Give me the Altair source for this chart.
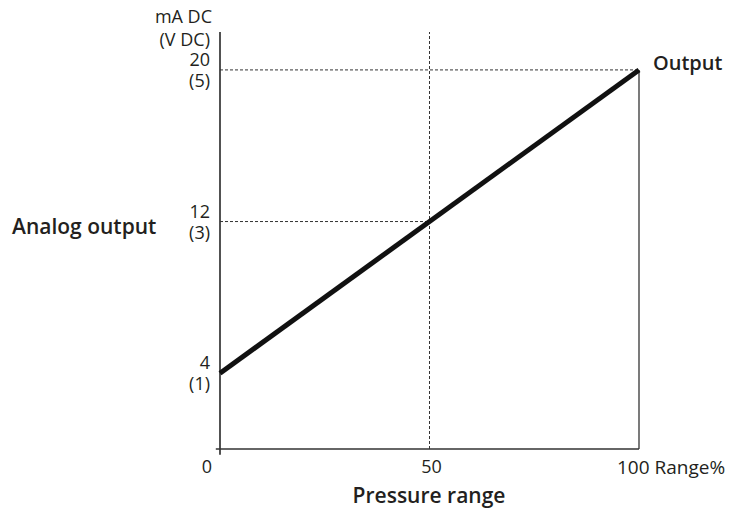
import altair as alt
import pandas as pd

# data
x_ticks = [0, 50, 100]
x_tick_labels = ["0", "50", "100 Range%"]
y_ticks = [4, 12, 20]
y_labels_ma = ["4", "12", "20"]
y_labels_v = ["(1)", "(3)", "(5)"]
unit_labels = ["mA DC", "(V DC)"]
range_pct = [0, 100]
output_ma = [4, 20]

FONT = "Open Sans"
TXT = "#231f20"
LN = "#333333"
TS = 18   # tick label size
LS = 21   # title label size
LW = 600  # title label weight

xs = alt.Scale(domain=[0, 100], nice=False, zero=False)
ys = alt.Scale(domain=[0, 22], nice=False, zero=False)

line_df = pd.DataFrame({"x": range_pct, "y": output_ma})
yt_df = pd.DataFrame({"y": y_ticks, "ma": y_labels_ma, "v": y_labels_v})

def X(f="x"):
    return alt.X(f, type="quantitative", scale=xs, axis=None)

def Y(f="y"):
    return alt.Y(f, type="quantitative", scale=ys, axis=None)

# reference guide lines
dash_h = pd.DataFrame({"x": [0, 0], "x2": [100, 50], "y": [20, 12]})
dash_v = pd.DataFrame({"x": [50], "y": [0], "y2": [22]})
solid_v = pd.DataFrame({"x": [100], "y": [0], "y2": [20]})
yaxis = pd.DataFrame({"x": [0], "y": [-0.3], "y2": [22]})
xaxis = pd.DataFrame({"x": [-1], "x2": [100], "y": [0]})

l_dash_h = alt.Chart(dash_h).mark_rule(strokeDash=[3, 2], strokeWidth=1, color=LN).encode(
    x=X(), x2="x2", y=Y())
l_dash_v = alt.Chart(dash_v).mark_rule(strokeDash=[3, 2], strokeWidth=1, color=LN).encode(
    x=X(), y=Y(), y2="y2")
l_solid_v = alt.Chart(solid_v).mark_rule(strokeWidth=1.3, color=LN).encode(
    x=X(), y=Y(), y2="y2")
l_yaxis = alt.Chart(yaxis).mark_rule(strokeWidth=1.7, color=LN).encode(
    x=X(), y=Y(), y2="y2")
l_xaxis = alt.Chart(xaxis).mark_rule(strokeWidth=1.7, color=LN).encode(
    x=X(), x2="x2", y=Y())

l_line = alt.Chart(line_df).mark_line(strokeWidth=5, color="#111111", strokeCap="butt").encode(
    x=X(), y=Y())

l_ma = alt.Chart(yt_df).mark_text(align="right", baseline="middle", dx=-10, dy=-9,
                                  font=FONT, fontSize=TS, color=TXT).encode(
    x=alt.value(0), y=Y(), text="ma")
l_v = alt.Chart(yt_df).mark_text(align="right", baseline="middle", dx=-10, dy=12,
                                 font=FONT, fontSize=TS, color=TXT).encode(
    x=alt.value(0), y=Y(), text="v")

unit_df = pd.DataFrame({"y": [22, 22], "t": unit_labels})
l_unit1 = alt.Chart(unit_df.iloc[[0]]).mark_text(align="right", baseline="middle", dx=-8, dy=-14,
                                                 font=FONT, fontSize=TS, color=TXT).encode(
    x=alt.value(0), y=Y(), text="t")
l_unit2 = alt.Chart(unit_df.iloc[[1]]).mark_text(align="right", baseline="middle", dx=-10, dy=9,
                                                 font=FONT, fontSize=TS, color=TXT).encode(
    x=alt.value(0), y=Y(), text="t")

xt_df = pd.DataFrame({"x": x_ticks, "t": x_tick_labels})
l_x0 = alt.Chart(xt_df.iloc[[0]]).mark_text(align="center", baseline="middle", dx=-13,
                                            font=FONT, fontSize=TS, color=TXT).encode(
    x=X(), y=alt.value(436), text="t")
l_x50 = alt.Chart(xt_df.iloc[[1]]).mark_text(align="center", baseline="middle", dx=2,
                                             font=FONT, fontSize=TS, color=TXT).encode(
    x=X(), y=alt.value(436), text="t")
l_x100 = alt.Chart(xt_df.iloc[[2]]).mark_text(align="left", baseline="middle", dx=-22,
                                              font=FONT, fontSize=TS + 1, color=TXT).encode(
    x=X(), y=alt.value(436), text="t")

out_df = pd.DataFrame({"x": [100], "y": [20], "t": ["Output"]})
l_out = alt.Chart(out_df).mark_text(align="left", baseline="middle", dx=14, dy=-6,
                                    font=FONT, fontSize=LS - 1, fontWeight=LW, color=TXT).encode(
    x=X(), y=Y(), text="t")

ay_df = pd.DataFrame({"t": ["Analog output"]})
l_ay = alt.Chart(ay_df).mark_text(align="left", baseline="middle",
                                  font=FONT, fontSize=LS, fontWeight=LW, color=TXT).encode(
    x=alt.value(-208), y=alt.value(196), text="t")

ax_df = pd.DataFrame({"t": ["Pressure range"]})
l_ax = alt.Chart(ax_df).mark_text(align="center", baseline="middle",
                                  font=FONT, fontSize=LS, fontWeight=LW, color=TXT).encode(
    x=alt.value(209), y=alt.value(465), text="t")

chart = alt.layer(
    l_dash_h, l_dash_v, l_solid_v, l_yaxis, l_xaxis, l_line,
    l_ma, l_v, l_unit1, l_unit2, l_x0, l_x50, l_x100, l_out, l_ay, l_ax
).properties(
    width=419, height=417,
    autosize=alt.AutoSizeParams(type="none"),
    padding={"left": 212, "top": 24, "right": 88, "bottom": 59},
).configure_view(stroke=None)

chart.save("out.html", embed_options={"renderer": "svg", "actions": False})
